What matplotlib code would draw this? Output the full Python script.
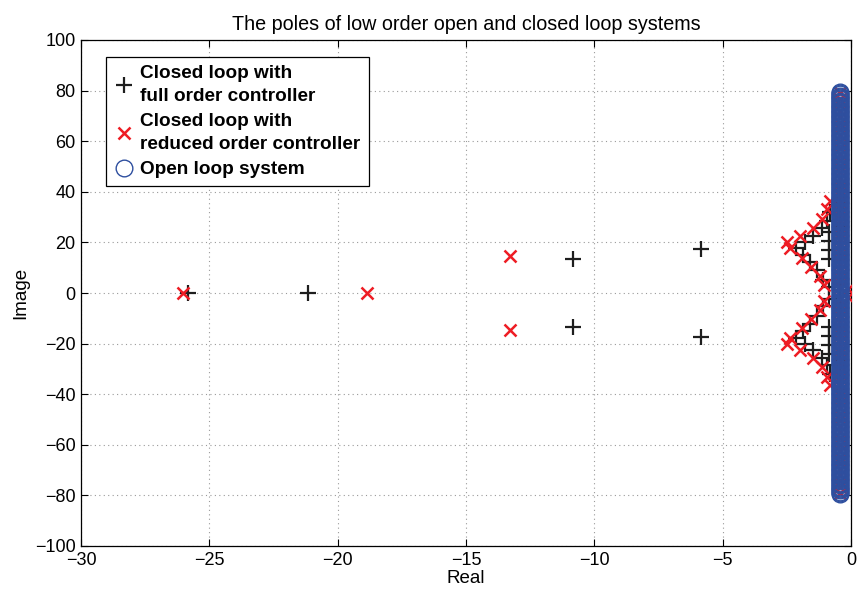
import matplotlib
matplotlib.use('Agg')
import matplotlib.pyplot as plt

# ---------------- data ----------------
# Closed loop with full order controller (upper half-plane; conjugates mirrored)
full_re_iso = [-25.85, -21.14, -10.82, -10.82, -5.86, -5.86]
full_im_iso = [0.0, 0.0, 13.4, -13.4, 17.2, -17.2]
full_wedge_re = [-2.15, -1.80, -1.47, -1.14, -0.95, -0.82,
                 -1.86, -1.60, -1.34, -1.08, -0.85,
                 -0.85, -0.85, -0.85, -0.85]
full_wedge_im = [17.6, 20.2, 22.4, 25.5, 28.3, 32.0,
                 15.2, 12.3, 9.0, 5.0, 2.2,
                 24.0, 20.5, 17.0, 13.5]
full_col_re = -0.42
full_col_im = [1.2, 3.5, 5.8, 8.1, 10.4, 12.7, 15.0, 17.3, 19.6, 21.9, 24.2,
               26.5, 28.8, 31.1, 33.4, 35.7, 38.0, 40.3, 42.6]

# Closed loop with reduced order controller
red_re_iso = [-26.03, -18.87, -13.28, -13.28]
red_im_iso = [0.0, 0.0, 14.5, -14.5]
red_wedge_re = [-2.50, -1.99, -1.50, -1.14, -0.92, -0.80,
                -2.36, -1.92, -1.57, -1.21, -1.07, -0.12]
red_wedge_im = [20.0, 22.6, 25.8, 29.4, 33.3, 36.5,
                17.8, 14.0, 10.2, 6.6, 3.0, 1.6]
red_col_re = -0.42
red_col_im = [2.3, 4.7, 7.1, 9.5, 11.9, 14.3, 16.7, 19.1, 21.5, 23.9, 26.3,
              28.7, 31.1, 33.5, 35.9, 38.3, 40.7, 43.1, 45.5, 47.9, 50.3,
              52.7, 55.1, 57.5, 59.9, 62.3, 64.7, 67.1, 69.5, 71.9, 74.3,
              76.7, 79.1]

# Open loop system poles (lightly damped modes, upper half)
ol_re = -0.42
ol_im = [0.5, 1.0, 1.5, 2.0, 2.5, 3.0, 3.5, 4.0, 4.5, 5.0, 5.5, 6.0, 6.5,
         7.0, 7.5, 8.0, 8.5, 9.0, 9.5, 10.0, 10.5, 11.0, 11.5, 12.0, 12.5,
         13.0, 13.5, 14.0, 14.5, 15.0, 15.5, 16.0, 16.5, 17.0, 17.5, 18.0,
         18.5, 19.0, 19.5, 20.0, 20.5, 21.0, 21.5, 22.0, 22.5, 23.0, 23.5,
         24.0, 24.5, 25.0, 25.5, 26.0, 26.5, 27.0, 27.5, 28.0, 28.5, 29.0,
         29.5, 30.0, 30.5, 31.0, 31.5, 32.0, 32.5, 33.0, 33.5, 34.0, 34.5,
         35.0, 35.5, 36.0, 36.5, 37.0, 37.5, 38.0, 38.5, 39.0, 39.5, 40.0,
         40.5, 41.0, 41.5, 42.0, 42.5, 43.0, 43.5, 44.0, 44.5, 45.0, 45.5,
         46.0, 46.5, 47.0, 47.5, 48.0, 48.5, 49.0, 49.5, 50.0, 50.5, 51.0,
         51.5, 52.0, 52.5, 53.0, 53.5, 54.0, 54.5, 55.0, 55.5, 56.0, 56.5,
         57.0, 57.5, 58.0, 58.5, 59.0, 59.5, 60.0, 60.5, 61.0, 61.5, 62.0,
         62.5, 63.0, 63.5, 64.0, 64.5, 65.0, 65.5, 66.0, 66.5, 67.0, 67.5,
         68.0, 68.5, 69.0, 69.5, 70.0, 70.5, 71.0, 71.5, 72.0, 72.5, 73.0,
         73.5, 74.0, 74.5, 75.0, 75.5, 76.0, 76.5, 77.0, 77.5, 78.0, 78.5,
         79.0, 79.5]

labels = ['Closed loop with\nfull order controller',
          'Closed loop with\nreduced order controller',
          'Open loop system']
x_ticks = [-30, -25, -20, -15, -10, -5, 0]
y_ticks = [-100, -80, -60, -40, -20, 0, 20, 40, 60, 80, 100]

# ---------------- assemble conjugate pairs ----------------
full_re = (full_re_iso + full_wedge_re + full_wedge_re
           + [full_col_re] * (2 * len(full_col_im)))
full_im = (full_im_iso + full_wedge_im + [-v for v in full_wedge_im]
           + full_col_im + [-v for v in full_col_im])
red_re = (red_re_iso + red_wedge_re + red_wedge_re
          + [red_col_re] * (2 * len(red_col_im)))
red_im = (red_im_iso + red_wedge_im + [-v for v in red_wedge_im]
          + red_col_im + [-v for v in red_col_im])
ol_all_im = ol_im + [-v for v in ol_im]
ol_all_re = [ol_re] * len(ol_all_im)

# ---------------- plot ----------------
plt.rcParams['font.family'] = ['Liberation Sans', 'DejaVu Sans']
fig = plt.figure(figsize=(8.58, 5.93), dpi=100)
ax = fig.add_axes([81 / 858, 47 / 593, 770 / 858, 506 / 593])

ax.plot(full_re, full_im, linestyle='none', marker='+', color='#1e1e1e',
        markersize=11, markeredgewidth=1.6, label=labels[0], zorder=3)
ax.plot(red_re, red_im, linestyle='none', marker='x', color='#ee1c24',
        markersize=8.5, markeredgewidth=1.8, label=labels[1], zorder=4)
ax.plot(ol_all_re, ol_all_im, linestyle='none', marker='o',
        markerfacecolor='none', markeredgecolor='#2e4f9f',
        markersize=12, markeredgewidth=1.0, label=labels[2], zorder=5)

ax.set_xlim(-30, 0)
ax.set_ylim(-100, 100)
ax.set_xticks(x_ticks)
ax.set_yticks(y_ticks)
ax.tick_params(direction='in', top=True, right=True, length=5, width=0.8,
               labelsize=13, pad=4)
ax.grid(True, linestyle=(0, (1, 3)), color='#9a9a9a', linewidth=0.8)
ax.set_axisbelow(True)
for s in ax.spines.values():
    s.set_linewidth(0.9)

ax.set_title('The poles of low order open and closed loop systems',
             fontsize=14.2, pad=7)
ax.set_xlabel('Real', fontsize=13.5, labelpad=1)
ax.set_ylabel('Image', fontsize=13.5, labelpad=4)

leg = ax.legend(loc='upper left', bbox_to_anchor=(0.032, 0.967),
                borderaxespad=0, prop={'weight': 'bold', 'size': 13.7},
                fancybox=False, framealpha=1, edgecolor='black',
                handlelength=1.1, handletextpad=0.3, borderpad=0.42,
                labelspacing=0.4)
leg.get_frame().set_linewidth(0.9)
for t in leg.get_texts():
    t.set_linespacing(1.5)

fig.savefig('out.png', dpi=100)
